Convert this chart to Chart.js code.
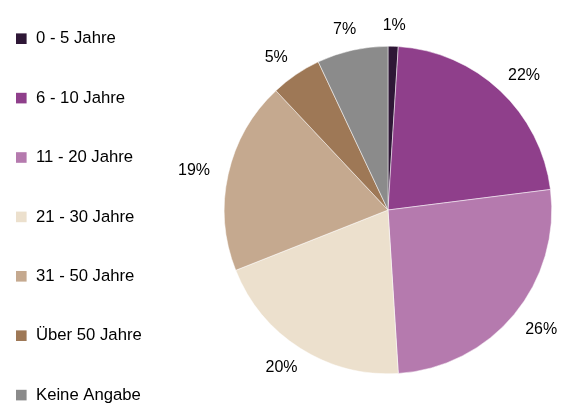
<!DOCTYPE html>
<html><head><meta charset="utf-8">
<script src="https://cdn.jsdelivr.net/npm/chart.js@4/dist/chart.umd.min.js"></script>
<style>html,body{margin:0;padding:0;background:#fff}canvas{display:block}</style>
</head><body>
<canvas id="c" width="564" height="406"></canvas>
<script>
const categories = ["0 - 5 Jahre","6 - 10 Jahre","11 - 20 Jahre","21 - 30 Jahre","31 - 50 Jahre","Über 50 Jahre","Keine Angabe"];
const values = [1,22,26,20,19,5,7];
const labels = ["1%","22%","26%","20%","19%","5%","7%"];
const colors = ["#2e1736","#8f3f8b","#b57aae","#ece0cd","#c5a98f","#9e7856","#8b8b8b"];
const FONT = "'Liberation Sans', Arial, sans-serif";

const outsideLabels = {
  id:'outsideLabels',
  afterDatasetsDraw(chart){
    const ctx = chart.ctx;
    const meta = chart.getDatasetMeta(0);
    ctx.save();
    ctx.font = "16px " + FONT;
    ctx.fillStyle = "#000";
    ctx.textAlign = "center";
    ctx.textBaseline = "middle";
    meta.data.forEach((arc,i)=>{
      const p = arc.getProps(['x','y','startAngle','endAngle','outerRadius'],true);
      const a = (p.startAngle+p.endAngle)/2;
      const rx = p.outerRadius + 35, ry = p.outerRadius + 22;
      ctx.fillText(labels[i], p.x + Math.cos(a)*rx, p.y + Math.sin(a)*ry + 1);
    });
    ctx.restore();
  }
};
const sideLegend = {
  id:'sideLegend',
  afterDraw(chart){
    const ctx = chart.ctx;
    ctx.save();
    ctx.font = "16.7px " + FONT;
    ctx.textBaseline = "middle";
    categories.forEach((c,i)=>{
      const y = 38.7 + i*59.4;
      ctx.fillStyle = colors[i];
      ctx.fillRect(16, y-5.3, 10.6, 10.6);
      ctx.fillStyle = "#000";
      ctx.fillText(c, 36, y);
    });
    ctx.restore();
  }
};

new Chart(document.getElementById('c'), {
  type:'pie',
  data:{labels:categories, datasets:[{data:values, backgroundColor:colors, borderColor:'#fff', borderWidth:0.5}]},
  options:{
    responsive:false, animation:false,
    layout:{padding:{left:224,right:12,top:46,bottom:32}},
    plugins:{legend:{display:false}, tooltip:{enabled:false}}
  },
  plugins:[outsideLabels, sideLegend]
});
</script>
</body></html>
